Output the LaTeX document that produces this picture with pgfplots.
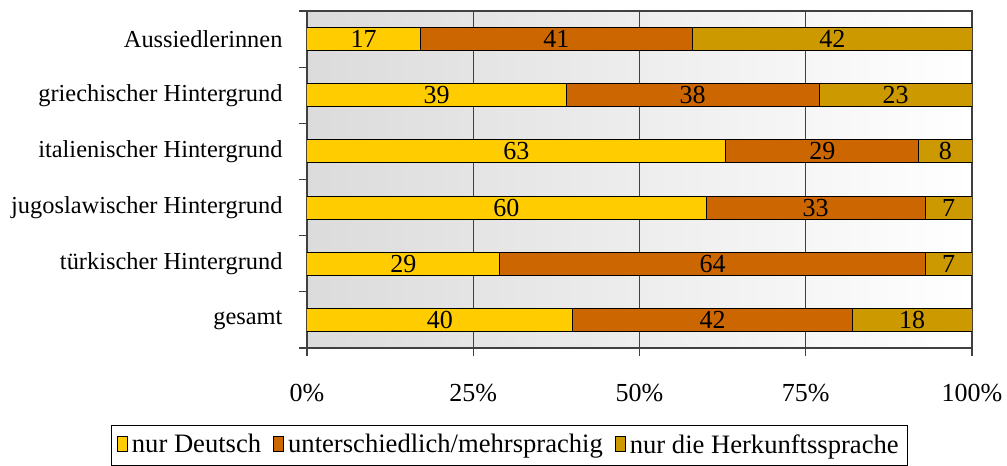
\documentclass[border=0pt]{standalone}
\usepackage{pgfplots}
\pgfplotsset{compat=1.18}
\usepackage{pgfplotstable}
\usepackage{fontspec}
\setmainfont{Liberation Serif}
\definecolor{cA}{HTML}{FFCC00}
\definecolor{cB}{HTML}{CC6600}
\definecolor{cC}{HTML}{CC9900}
\definecolor{gridc}{HTML}{404040}

\pgfplotstableread{
pos a b c
0 17 41 42
1 39 38 23
2 63 29 8
3 60 33 7
4 29 64 7
5 40 42 18
}\datatable

\begin{document}
\fontsize{12.2}{14}\selectfont
\begin{tikzpicture}
\useasboundingbox (-153.5pt,-59pt) rectangle (350pt,174pt);
\begin{axis}[
  xbar stacked,
  scale only axis,
  width=332.5pt, height=168.5pt,
  xmin=0, xmax=100,
  ymin=-0.5, ymax=5.5,
  y dir=reverse,
  bar width=0.41,
  font=\fontsize{12.2}{14}\selectfont,
  /pgf/number format/assume math mode=true,
  xtick={0,25,50,75,100},
  xticklabels={0\%,25\%,50\%,75\%,100\%},
  xticklabel style={yshift=-10pt, font=\fontsize{13}{15}\selectfont},
  ytick={-0.5,0.5,...,5.5},
  yticklabels={},
  extra y ticks={0,1,2,3,4,5},
  extra y tick labels={Aussiedlerinnen,griechischer Hintergrund,italienischer Hintergrund,jugoslawischer Hintergrund,türkischer Hintergrund,gesamt},
  extra y tick style={major tick length=0pt, yticklabel style={xshift=-8pt}},
  xtick pos=bottom, ytick pos=left,
  tick align=outside,
  major tick length=4pt,
  tick style={gridc, line width=0.6pt},
  axis line style={gridc, line width=0.6pt},
  xmajorgrids,
  grid style={gridc, line width=0.6pt},
  axis background/.style={left color=black!14, right color=white},
  nodes near coords,
  every node near coord/.append style={anchor=center, text=black, font=\fontsize{13}{15}\selectfont},
  legend style={at={(0.305,-0.228)}, anchor=north, legend columns=3, draw=black, line width=0.5pt, inner sep=2.5pt,
    font=\fontsize{13.3}{15}\selectfont,
    /tikz/every even column/.append style={column sep=4pt}},
  legend image code/.code={\draw[#1, draw=black, line width=0.5pt] (0pt,-3.2pt) rectangle (5pt,4.5pt);},
]
\addplot[fill=cA, draw=black, line width=0.5pt] table[x=a, y=pos, meta=a, point meta=explicit] {\datatable};
\addplot[fill=cB, draw=black, line width=0.5pt] table[x=b, y=pos, meta=b] {\datatable};
\addplot[fill=cC, draw=black, line width=0.5pt] table[x=c, y=pos, meta=c] {\datatable};
\legend{nur Deutsch, unterschiedlich/mehrsprachig, nur die Herkunftssprache}
\end{axis}
\end{tikzpicture}
\end{document}
